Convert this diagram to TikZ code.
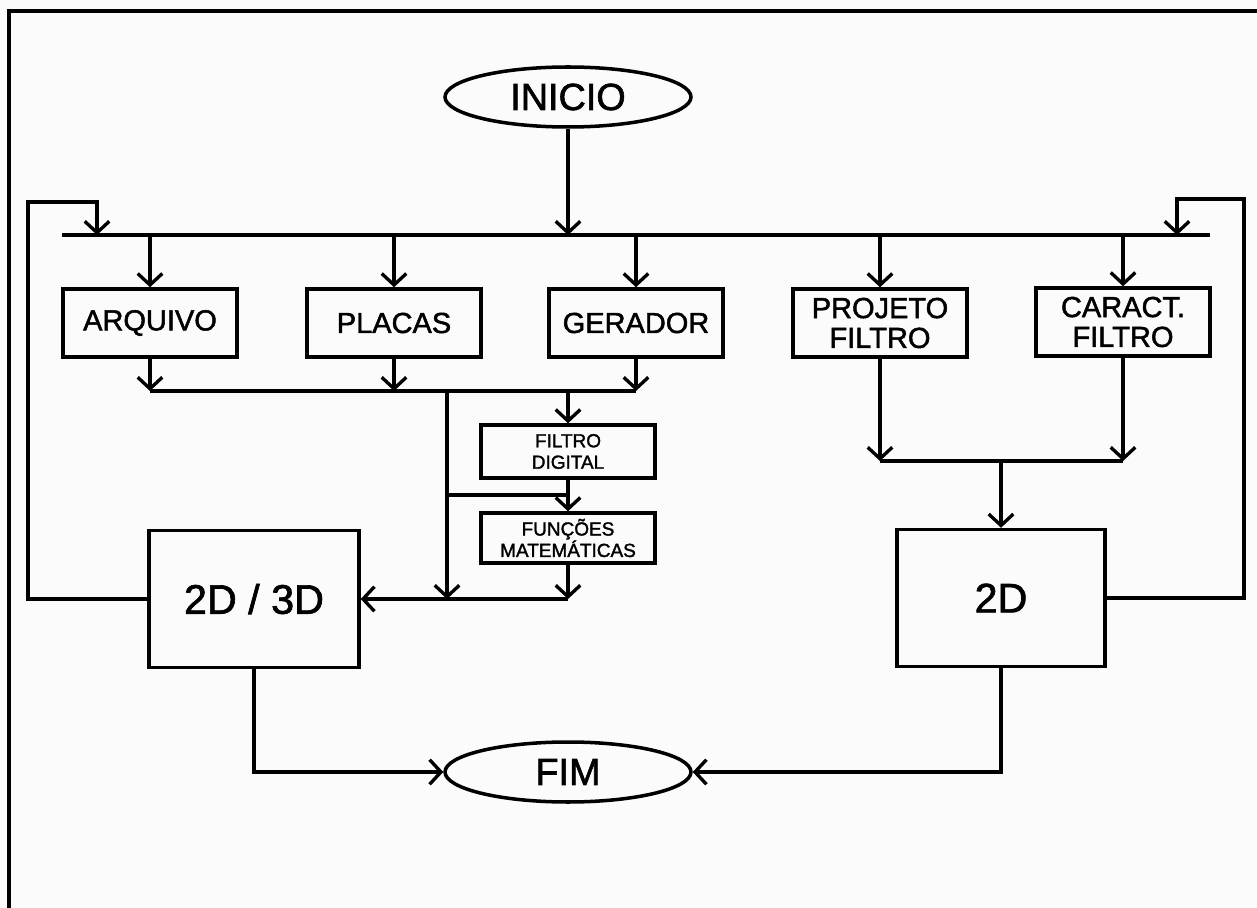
\documentclass[tikz,border=0pt]{standalone}
\usepackage{fontspec}
\setmainfont{Liberation Sans}
\newfontfamily\heavyfont{Liberation Sans}[FakeBold=1.6]
\usetikzlibrary{arrows.meta,shapes.geometric}
\tikzset{
  ln/.style={line width=2pt},
  arr/.style={ln,-{Straight Barb[length=6.5pt,width=14pt,line width=1.9pt]}},
  box/.style={draw,line width=2pt,inner sep=0pt,align=center,minimum width=3.48cm,minimum height=1.36cm,font=\heavyfont\fontsize{16.5}{17}\selectfont},
  sbox/.style={draw,line width=2pt,inner sep=0pt,align=center,minimum width=3.48cm,font=\heavyfont\fontsize{10.8}{12.2}\selectfont},
  bigbox/.style={draw,line width=2pt,inner sep=0pt,align=center,minimum width=4.2cm,minimum height=2.74cm,font=\heavyfont\fontsize{23.5}{26}\selectfont},
  oval/.style={draw,ellipse,line width=2pt,inner sep=0pt,minimum width=4.92cm,minimum height=1.2cm,font=\heavyfont\fontsize{21.5}{24}\selectfont}
}
\begin{document}
\begin{tikzpicture}[x=0.02cm,y=-0.02cm]
\useasboundingbox (0,0) rectangle (1257,908);
\fill[white!97!gray] (0,0) rectangle (1257,908);
% frame (left and top edges)
\draw[line width=2.2pt] (9,908) -- (9,11) -- (1257,11);

% nodes
\node[oval] (ini) at (568,97) {INICIO};
\node[box] (arq) at (150,323) {ARQUIVO};
\node[box] (pla) at (394,323) {PLACAS};
\node[box] (ger) at (636,323) {GERADOR};
\node[box] (pf) at (880,323) {PROJETO\\FILTRO};
\node[box] (cf) at (1123,322) {CARACT.\\FILTRO};
\node[sbox,minimum height=1.06cm] (fd) at (568,451.5) {FILTRO\\DIGITAL};
\node[sbox,minimum height=1.0cm] (fm) at (568,538) {FUNÇÕES\\MATEMÁTICAS};
\node[bigbox] (d23) at (254,599) {2D / 3D};
\node[bigbox,minimum width=4.16cm] (d2) at (1001,598) {2D};
\node[oval] (fim) at (568,772) {FIM};

% helper coordinates
\coordinate (busL) at (62,235);
\coordinate (busR) at (1210,235);
\coordinate (lcorner) at (28,202);
\coordinate (lin) at (97,235);
\coordinate (rcorner) at (1244,199);
\coordinate (rin) at (1177,235);
\coordinate (col) at (447,391);
\coordinate (jn) at (568,495);
\coordinate (rj) at (1001,461);

% bus
\draw[ln] (busL) -- (busR);
\draw[arr] (ini.south) -- (ini.south |- busL);
\foreach \n in {arq,pla,ger,pf,cf}{
  \draw[arr] (\n.north |- busL) -- (\n.north);
}
% feedback loops
\draw[arr] (d23.west) -| (lcorner) -| (lin);
\draw[arr] (d2.east) -| (rcorner) -| (rin);

% collector below left boxes
\foreach \n in {arq,pla,ger}{
  \draw[arr] (\n.south) -- (\n.south |- col);
}
\draw[ln] (arq.south |- col) -- (ger.south |- col);
\draw[arr] (fd.north |- col) -- (fd.north);
\draw[arr] (col) -- (col |- d23.east);
\draw[ln] (col |- jn) -- (jn);
\draw[arr] (fd.south) -- (fm.north);
\draw[arr] (fm.south) -- (fm.south |- d23.east);
\draw[arr] (fm.south |- d23.east) -- (d23.east);

% right branch
\draw[arr] (pf.south) -- (pf.south |- rj);
\draw[arr] (cf.south) -- (cf.south |- rj);
\draw[ln] (pf.south |- rj) -- (cf.south |- rj);
\draw[arr] (rj) -- (d2.north);

% to FIM
\draw[arr] (d23.south) |- (fim.west);
\draw[arr] (d2.south) |- (fim.east);
\end{tikzpicture}
\end{document}
